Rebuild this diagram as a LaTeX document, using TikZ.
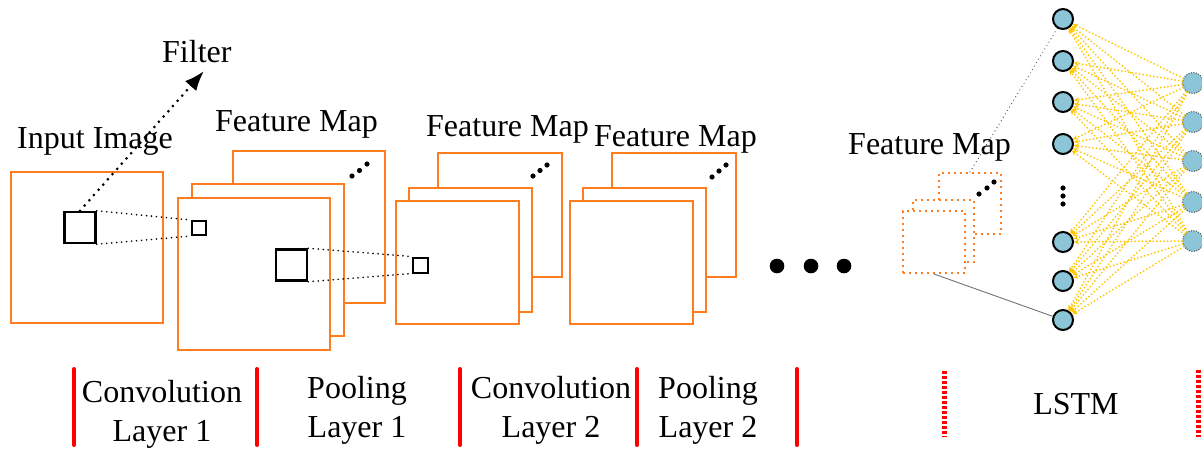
\documentclass[tikz,border=0pt]{standalone}
\usepackage{fontspec}
\setmainfont{Liberation Serif}
\usetikzlibrary{arrows.meta}
\definecolor{orng}{RGB}{255,125,30}
\definecolor{nodeblue}{RGB}{140,197,216}
\definecolor{yel}{RGB}{255,198,0}
\definecolor{redbar}{RGB}{255,0,0}
\begin{document}
\begin{tikzpicture}[x=1pt,y=-1pt,
  fmap/.style={draw=orng,line width=2.5pt,fill=white,inner sep=0pt,rectangle},
  fmapdot/.style={draw=orng,line width=2pt,dash pattern=on 2pt off 4pt,fill=white,inner sep=0pt,rectangle},
  filtsq/.style={draw=black,line width=2.5pt,fill=white,inner sep=0pt,rectangle},
  dotline/.style={line width=1.8pt,line cap=round,dash pattern=on 0pt off 5pt},
  lbl/.style={font=\fontsize{32}{39}\selectfont,inner sep=0pt},
  lnode/.style={circle,draw=black,line width=2pt,fill=nodeblue,minimum size=20pt,inner sep=0pt},
  rnode/.style={circle,draw=black!70,line width=1pt,dash pattern=on 1pt off 1.5pt,fill=nodeblue,minimum size=21pt,inner sep=0pt},
  yelline/.style={draw=yel,line width=2pt,line cap=round,dash pattern=on 0pt off 3.6pt,-{Stealth[length=5pt,width=5pt]}},
  sepbar/.style={draw=redbar,line width=4pt,line cap=round},
  sepdash/.style={draw=redbar,line width=5pt,dash pattern=on 3pt off 2pt}
]
\useasboundingbox (0,0) rectangle (1202,448);

% input image
\node[fmap,minimum width=152pt,minimum height=151pt] (inp) at (87,247.5) {};
% feature map stack 1
\node[fmap,minimum width=152pt,minimum height=152pt] (m1b) at (309,227) {};
\node[fmap,minimum width=152pt,minimum height=152pt] (m1m) at (268,260) {};
\node[fmap,minimum width=152pt,minimum height=152pt] (m1f) at (254,274) {};
% feature map stack 2
\node[fmap,minimum width=124pt,minimum height=124pt] (m2b) at (500,215) {};
\node[fmap,minimum width=123pt,minimum height=124pt] (m2m) at (470.5,250) {};
\node[fmap,minimum width=123pt,minimum height=123pt] (m2f) at (457.5,262.5) {};
% feature map stack 3
\node[fmap,minimum width=124pt,minimum height=124pt] (m3b) at (674,215) {};
\node[fmap,minimum width=123pt,minimum height=124pt] (m3m) at (644.5,250) {};
\node[fmap,minimum width=123pt,minimum height=123pt] (m3f) at (631.5,262.5) {};
% feature map stack 4 (dotted)
\node[fmapdot,minimum width=62pt,minimum height=61pt] (m4b) at (970,203.5) {};
\node[fmapdot,minimum width=61pt,minimum height=62pt] (m4m) at (943.5,231) {};
\node[fmapdot,minimum width=62pt,minimum height=62pt] (m4f) at (934,242) {};

% diagonal dots in stacks
\foreach \x/\y in {352/176,359.5/170.5,367/164, 533/176,540/170.5,547/165, 712/177,719/171,726/165, 979/194,987/188,994/182}
  \fill (\x,\y) circle (2.6pt);

% filter squares
\node[filtsq,minimum size=31pt] (fs) at (80,227.5) {};
\node[filtsq,minimum size=14pt,line width=2pt] (sq1) at (199,228) {};
\node[filtsq,minimum size=31pt] (sq2) at (291.5,265) {};
\node[filtsq,minimum size=15pt,line width=2pt] (sq3) at (420,265) {};
\draw[dotline] (fs.north east) -- (sq1.north west);
\draw[dotline] (fs.south east) -- (sq1.south west);
\draw[dotline] (sq2.north east) -- (sq3.north west);
\draw[dotline] (sq2.south east) -- (sq3.south west);

% filter arrow
\coordinate (ftip) at (204,71);
\draw[line width=3pt,line cap=round,dash pattern=on 0pt off 7pt,-{Latex[length=20pt,width=15pt]}] (fs.north) -- (ftip);

% texts
\node[lbl,anchor=base west] (tfilter) at (162,62) {Filter};
\node[lbl,anchor=base west] (tinput) at (17,148) {Input Image};
\node[lbl,anchor=base west] (tfm1) at (215,131) {Feature Map};
\node[lbl,anchor=base west] (tfm2) at (426,136) {Feature Map};
\node[lbl,anchor=base west] (tfm3) at (594,146) {Feature Map};
\node[lbl,anchor=base west] (tfm4) at (848,154) {Feature Map};

% big dots
\foreach \x in {777,811,844}
  \fill (\x,266) circle (7.3pt);

% LSTM nodes
\foreach \i/\y in {1/19,2/61,3/102,4/144,5/242,6/281,7/320}
  \node[lnode] (l\i) at (1063,\y) {};
\foreach \y in {188,196,204}
  \fill (1063,\y) circle (2.6pt);
\foreach \j/\y in {1/83,2/122,3/161,4/202,5/241}
  \node[rnode] (r\j) at (1193,\y) {};
\foreach \j in {1,...,5}
  \foreach \i in {1,...,7}
    \draw[yelline] (r\j) -- (l\i);

% links from last feature map to LSTM
\draw[black!75,line width=1.2pt,line cap=round,dash pattern=on 0pt off 4pt] (m4b.north) -- (l1);
\draw[black!55,line width=0.9pt] (m4f.south) -- (l7);

% separators
\foreach \x in {74,257,460,637,797}
  \draw[sepbar] (\x,369) -- (\x,445);
\draw[sepdash] (944,371) -- (944,437);
\draw[sepdash] (1198,370) -- (1198,437);

% layer labels
\node[lbl,align=center] (c1) at (162,414) {Convolution\\Layer 1};
\node[lbl,align=center] (p1) at (357,410) {Pooling\\Layer 1};
\node[lbl,align=center] (c2) at (551,410) {Convolution\\Layer 2};
\node[lbl,align=center] (p2) at (708,410) {Pooling\\Layer 2};
\node[lbl,anchor=base] (lstm) at (1076,414) {LSTM};
\end{tikzpicture}
\end{document}
